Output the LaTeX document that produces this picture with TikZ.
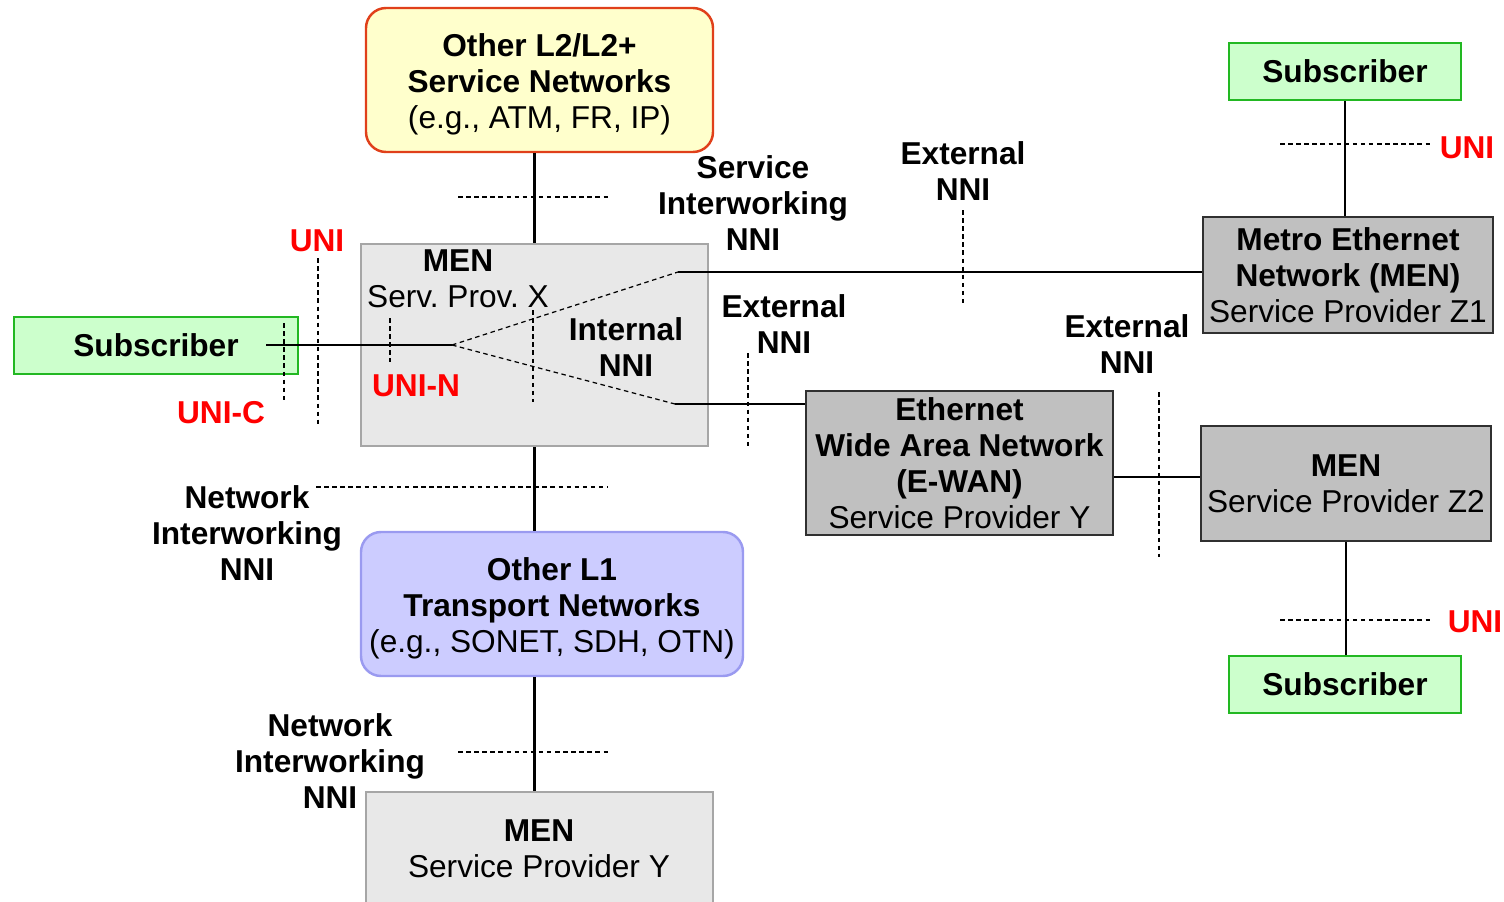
\documentclass[tikz,border=0pt]{standalone}
\usepackage{fontspec}
\setmainfont{Liberation Sans}
\usetikzlibrary{positioning}

\definecolor{subfill}{HTML}{CCFFCC}
\definecolor{subline}{HTML}{22B822}
\definecolor{darkfill}{HTML}{C0C0C0}
\definecolor{darkline}{HTML}{303030}
\definecolor{lightfill}{HTML}{E8E8E8}
\definecolor{lightline}{HTML}{A6A6A6}
\definecolor{lfill}{HTML}{FFFFCC}
\definecolor{lline}{HTML}{E0401A}
\definecolor{tfill}{HTML}{CCCCFF}
\definecolor{tline}{HTML}{9A9AF0}
\definecolor{unired}{HTML}{FF0000}

\tikzset{
  every node/.style={font=\fontsize{9}{10.2}\selectfont, inner sep=0pt, align=center},
  lbl/.style={font=\fontsize{9}{10.2}\selectfont\bfseries},
  redlbl/.style={lbl, text=unired},
  subbox/.style={draw=subline, fill=subfill, line width=0.7pt, minimum width=23.2mm, minimum height=5.7mm},
  darkbox/.style={draw=darkline, fill=darkfill, line width=0.7pt},
  lightbox/.style={draw=lightline, fill=lightfill, line width=0.7pt},
  link/.style={line width=0.6pt},
  refline/.style={line width=0.35pt, dash pattern=on 1.3pt off 1pt},
}

\begin{document}
\begin{tikzpicture}[x=0.1mm, y=-0.1mm]
    \useasboundingbox (0,0) rectangle (1504,902);

    \node[draw=lline, fill=lfill, line width=0.7pt, rounded corners=2mm,
          minimum width=34.7mm, minimum height=14.4mm] (l2net) at (539.5,80) {};
    \node (l2txt) at (539.5,84)
          {\textbf{Other L2/L2+}\\\textbf{Service Networks}\\(e.g., ATM, FR, IP)};
    \node[lightbox, minimum width=34.7mm, minimum height=20.2mm] (menx) at (534.5,345) {};
    \node[draw=tline, fill=tfill, line width=0.7pt, rounded corners=2mm,
          minimum width=38.2mm, minimum height=14.4mm] (l1net) at (552,604) {};
    \node (l1txt) at (552,608)
          {\textbf{Other L1}\\\textbf{Transport Networks}\\(e.g., SONET, SDH, OTN)};
    \node[lightbox, minimum width=34.7mm, minimum height=17mm, anchor=north] (meny) at (539.5,791) {};
    \node (menytxt) at (539,849) {\textbf{MEN}\\Service Provider Y};

    \node[subbox, lbl, minimum width=28.4mm] (subl) at (156,345.5) {Subscriber};
    \node[subbox, lbl] (subtr) at (1345,71.5) {Subscriber};
    \node[subbox, lbl] (subbr) at (1345,684.5) {Subscriber};

    \node[darkbox, minimum width=29mm, minimum height=11.6mm] (menz1) at (1348,275)
          {\textbf{Metro Ethernet}\\\textbf{Network (MEN)}\\Service Provider Z1};
    \node[darkbox, minimum width=30.7mm, minimum height=14.4mm] (ewan) at (959.5,463)
          {\textbf{Ethernet}\\\textbf{Wide Area Network}\\\textbf{(E-WAN)}\\Service Provider Y};
    \node[darkbox, minimum width=29mm, minimum height=11.5mm] (menz2) at (1346,483.5)
          {\textbf{MEN}\\Service Provider Z2};

    \node[lbl] (menxa) at (458,261) {MEN};
    \node (menxb) at (458,297) {Serv.\ Prov.\ X};
    \node[lbl] (inni) at (626,347) {Internal\\NNI};

    \coordinate (hub) at (452,345);
    \coordinate (subend) at (266,345);
    \coordinate (up) at (678,272);
    \coordinate (dn) at (675,404);
    \coordinate (wz) at (1113,477);

    \draw[link] (subend) -- (hub);
    \draw[refline] (hub) -- (up);
    \draw[refline] (hub) -- (dn);
    \draw[link] (up) -- (up -| menz1.west);
    \draw[link] (dn) -- (dn -| ewan.west);
    \draw[link] (menx.north) -- (menx.north |- l2net.south);
    \draw[link] (menx.south) -- (menx.south |- l1net.north);
    \draw[link] (menx.south |- l1net.south) -- (menx.south |- meny.north);
    \draw[link] (subtr.south) -- (subtr.south |- menz1.north);
    \draw[link] (wz -| ewan.east) -- (wz -| menz2.west);
    \draw[link] (menz2.south) -- (menz2.south |- subbr.north);

    \draw[refline] (284,323) -- (284,400);
    \draw[refline] (318,258) -- (318,425);
    \draw[refline] (390,318) -- (390,362);
    \draw[refline] (533,310) -- (533,402);
    \draw[refline] (458,197) -- (608,197);
    \draw[refline] (316,487) -- (608,487);
    \draw[refline] (458,752) -- (608,752);
    \draw[refline] (963,210) -- (963,306);
    \draw[refline] (748,353) -- (748,450);
    \draw[refline] (1159,392) -- (1159,557);
    \draw[refline] (1280,144) -- (1430,144);
    \draw[refline] (1280,620) -- (1430,620);

    \node[redlbl] (unil) at (317,241) {UNI};
    \node[redlbl] (unic) at (221,413) {UNI-C};
    \node[redlbl] (unin) at (416,386) {UNI-N};
    \node[redlbl] (unitr) at (1467,148) {UNI};
    \node[redlbl] (unibr) at (1475,622) {UNI};

    \node[lbl] (sinni) at (753,203) {Service\\Interworking\\NNI};
    \node[lbl] (enni1) at (963,171) {External\\NNI};
    \node[lbl] (enni2) at (784,324) {External\\NNI};
    \node[lbl] (enni3) at (1127,344) {External\\NNI};
    \node[lbl] (nwnni1) at (247,533) {Network\\Interworking\\NNI};
    \node[lbl] (nwnni2) at (330,761) {Network\\Interworking\\NNI};
  \end{tikzpicture}
\end{document}
